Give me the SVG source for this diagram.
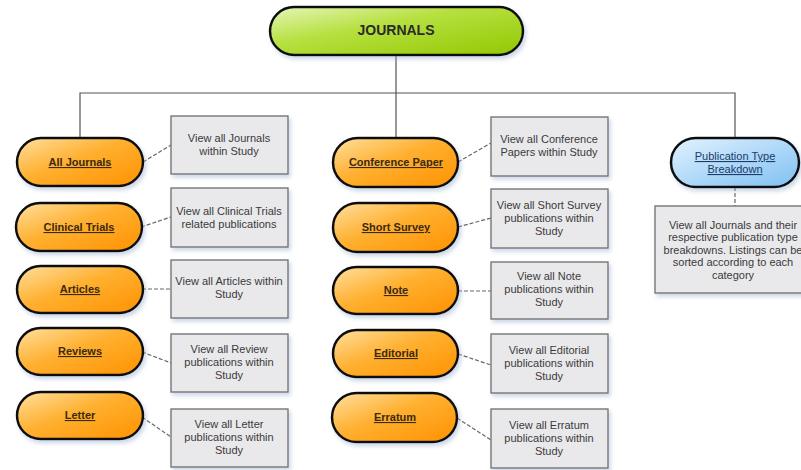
<svg xmlns="http://www.w3.org/2000/svg" width="801" height="470" viewBox="0 0 801 470">
<defs>
<linearGradient id="gOr" x1="0" y1="0" x2="1" y2="1">
<stop offset="0" stop-color="#ffe0a0"/>
<stop offset="0.45" stop-color="#ffb030"/>
<stop offset="1" stop-color="#ff9200"/>
</linearGradient>
<linearGradient id="gGr" x1="0" y1="0" x2="1" y2="1">
<stop offset="0" stop-color="#e6f6b8"/>
<stop offset="0.4" stop-color="#b6e040"/>
<stop offset="1" stop-color="#92c800"/>
</linearGradient>
<linearGradient id="gBl" x1="0" y1="0" x2="1" y2="1">
<stop offset="0" stop-color="#e2f2ff"/>
<stop offset="1" stop-color="#7fc0f2"/>
</linearGradient>
<filter id="sh" x="-10%" y="-10%" width="130%" height="140%">
<feGaussianBlur in="SourceAlpha" stdDeviation="2"/>
<feOffset dx="2" dy="3" result="b"/>
<feFlood flood-color="#8fa6c8" flood-opacity="0.45"/>
<feComposite in2="b" operator="in"/>
<feMerge><feMergeNode/><feMergeNode in="SourceGraphic"/></feMerge>
</filter>
</defs>
<style>
.pill{stroke:#111;stroke-width:2.5;filter:url(#sh)}
.or{fill:url(#gOr)}
.note{fill:#e9e9ec;stroke:#6e6e6e;stroke-width:1.3;filter:url(#sh)}
.pt{font-family:"Liberation Sans",Arial,sans-serif;font-size:11px;font-weight:bold;fill:#3a2a10;text-anchor:middle;text-decoration:underline}
.nt{font-family:"Liberation Sans",Arial,sans-serif;font-size:11px;fill:#3a3a3a;text-anchor:middle}
.ln{fill:none;stroke:#555;stroke-width:1.2}
.dl{fill:none;stroke:#666;stroke-width:1.2;stroke-dasharray:4,2}
</style>
<rect width="801" height="470" fill="#fff"/>
<g id="connectors">
<path class="ln" d="M396,55 V93 M80,138 V93 H735 V138 M396,93 V138"/>
<path class="dl" d="M143,162 L171,145"/>
<path class="dl" d="M141,227 L171,217"/>
<path class="dl" d="M142,289 H171"/>
<path class="dl" d="M142,352 L171,363"/>
<path class="dl" d="M142,417 L171,437"/>
<path class="dl" d="M458,162 L491,143"/>
<path class="dl" d="M458,227 L491,218"/>
<path class="dl" d="M458,291 H491"/>
<path class="dl" d="M458,354 L491,365"/>
<path class="dl" d="M457,418 L491,440"/>
<path class="dl" d="M735,187 V206"/>
</g>
<g id="journals">
<rect class="pill" x="270" y="7" width="253" height="48" rx="24" fill="url(#gGr)"/>
<text x="396" y="35" style="font-family:'Liberation Sans',Arial,sans-serif;font-size:14px;font-weight:bold;fill:#2a2a2a" text-anchor="middle">JOURNALS</text>
</g>
<g id="all-journals">
<rect class="pill or" x="17" y="138" width="126" height="48" rx="24"/>
<text class="pt" x="80" y="166">All Journals</text>
</g>
<g id="all-journals-note">
<rect class="note" x="171" y="116" width="117" height="58"/>
<text class="nt" x="229" y="142">View all Journals</text>
<text class="nt" x="229" y="155">within Study</text>
</g>
<g id="clinical-trials">
<rect class="pill or" x="16" y="203" width="126" height="48" rx="24"/>
<text class="pt" x="79" y="231">Clinical Trials</text>
</g>
<g id="clinical-trials-note">
<rect class="note" x="171" y="188" width="117" height="59"/>
<text class="nt" x="229" y="215">View all Clinical Trials</text>
<text class="nt" x="229" y="228">related publications</text>
</g>
<g id="articles">
<rect class="pill or" x="17" y="266" width="126" height="47" rx="23.5"/>
<text class="pt" x="80" y="293">Articles</text>
</g>
<g id="articles-note">
<rect class="note" x="171" y="260" width="117" height="58"/>
<text class="nt" x="229" y="285">View all Articles within</text>
<text class="nt" x="229" y="298">Study</text>
</g>
<g id="reviews">
<rect class="pill or" x="17" y="328" width="126" height="47" rx="23.5"/>
<text class="pt" x="80" y="355">Reviews</text>
</g>
<g id="reviews-note">
<rect class="note" x="171" y="334" width="117" height="58"/>
<text class="nt" x="229" y="353">View all Review</text>
<text class="nt" x="229" y="366">publications within</text>
<text class="nt" x="229" y="379">Study</text>
</g>
<g id="letter">
<rect class="pill or" x="17" y="392" width="126" height="47" rx="23.5"/>
<text class="pt" x="80" y="419">Letter</text>
</g>
<g id="letter-note">
<rect class="note" x="171" y="409" width="117" height="58"/>
<text class="nt" x="229" y="428">View all Letter</text>
<text class="nt" x="229" y="441">publications within</text>
<text class="nt" x="229" y="454">Study</text>
</g>
<g id="conference-paper">
<rect class="pill or" x="333" y="138" width="125" height="49" rx="24.5"/>
<text class="pt" x="396" y="166">Conference Paper</text>
</g>
<g id="conference-paper-note">
<rect class="note" x="491" y="117" width="117" height="59"/>
<text class="nt" x="549" y="143">View all Conference</text>
<text class="nt" x="549" y="156">Papers within Study</text>
</g>
<g id="short-survey">
<rect class="pill or" x="333" y="203" width="125" height="49" rx="24.5"/>
<text class="pt" x="396" y="231">Short Survey</text>
</g>
<g id="short-survey-note">
<rect class="note" x="491" y="189" width="117" height="59"/>
<text class="nt" x="549" y="209">View all Short Survey</text>
<text class="nt" x="549" y="222">publications within</text>
<text class="nt" x="549" y="235">Study</text>
</g>
<g id="note">
<rect class="pill or" x="333" y="267" width="125" height="47" rx="23.5"/>
<text class="pt" x="396" y="294">Note</text>
</g>
<g id="note-note">
<rect class="note" x="491" y="262" width="117" height="57"/>
<text class="nt" x="549" y="280">View all Note</text>
<text class="nt" x="549" y="293">publications within</text>
<text class="nt" x="549" y="306">Study</text>
</g>
<g id="editorial">
<rect class="pill or" x="333" y="330" width="125" height="47" rx="23.5"/>
<text class="pt" x="396" y="357">Editorial</text>
</g>
<g id="editorial-note">
<rect class="note" x="491" y="334" width="117" height="59"/>
<text class="nt" x="549" y="354">View all Editorial</text>
<text class="nt" x="549" y="367">publications within</text>
<text class="nt" x="549" y="380">Study</text>
</g>
<g id="erratum">
<rect class="pill or" x="332" y="393" width="125" height="49" rx="24.5"/>
<text class="pt" x="395" y="421">Erratum</text>
</g>
<g id="erratum-note">
<rect class="note" x="491" y="409" width="117" height="59"/>
<text class="nt" x="549" y="429">View all Erratum</text>
<text class="nt" x="549" y="442">publications within</text>
<text class="nt" x="549" y="455">Study</text>
</g>
<g id="publication-type-breakdown">
<rect class="pill" x="671" y="138" width="128" height="49" rx="24.5" fill="url(#gBl)"/>
<text class="pt" x="735" y="160" style="font-weight:normal;fill:#1c3a6a">Publication Type</text>
<text class="pt" x="735" y="173" style="font-weight:normal;fill:#1c3a6a">Breakdown</text>
</g>
<g id="publication-type-breakdown-note">
<rect class="note" x="655" y="206" width="156" height="87"/>
<text class="nt" x="733" y="229">View all Journals and their</text>
<text class="nt" x="733" y="241">respective publication type</text>
<text class="nt" x="733" y="254">breakdowns. Listings can be</text>
<text class="nt" x="733" y="266">sorted according to each</text>
<text class="nt" x="733" y="279">category</text>
</g>
</svg>
